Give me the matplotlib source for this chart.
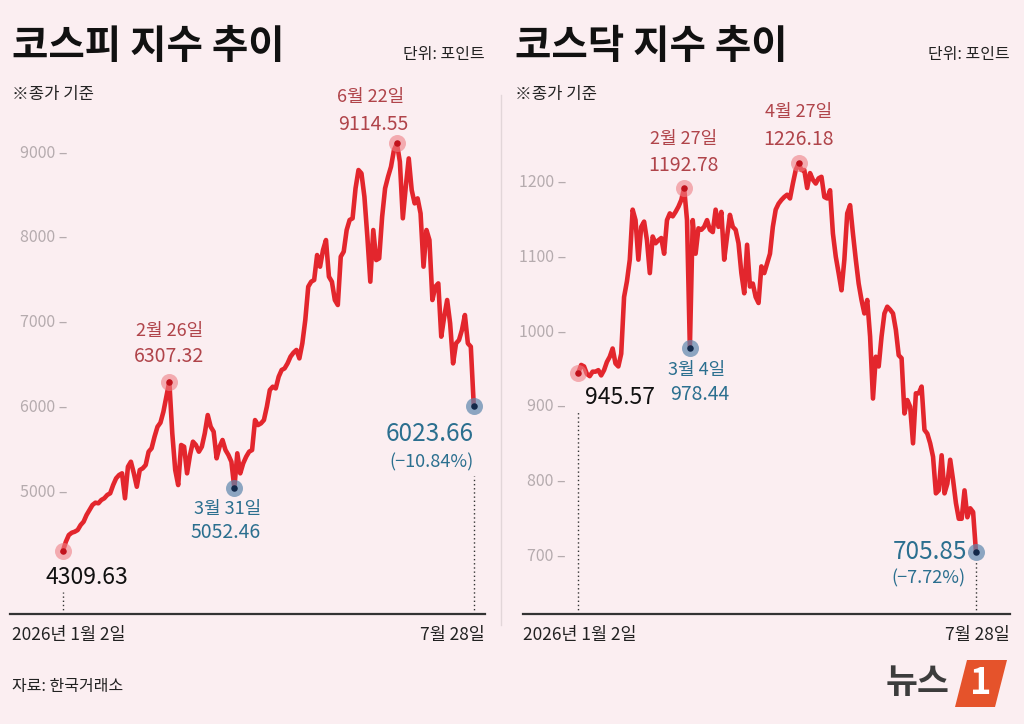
import numpy as np
import pandas as pd
import matplotlib.pyplot as plt
from matplotlib.patches import Polygon

plt.rcParams['font.family'] = ['Noto Sans CJK KR', 'DejaVu Sans']

# 거래일 (2026-01-02 ~ 2026-07-28, 휴장일 제외)
holidays = ['2026-02-16', '2026-02-17', '2026-02-18', '2026-03-02',
            '2026-05-01', '2026-05-05', '2026-05-25', '2026-06-03']
days = pd.bdate_range('2026-01-02', '2026-07-28')
days = days[~days.isin(pd.to_datetime(holidays))]

kospi = [4309.63, 4419, 4498, 4525, 4537, 4557, 4616, 4655, 4734, 4793,
         4852, 4879, 4872, 4911, 4931, 4970, 4990, 5087, 5166, 5205,
         5225, 4931, 5303, 5362, 5225, 5067, 5264, 5284, 5323, 5480,
         5520, 5657, 5774, 5822, 5951, 6128, 6307.32, 5697, 5264, 5087,
         5559, 5539, 5225, 5441, 5598, 5559, 5480, 5539, 5697, 5912,
         5774, 5716, 5402, 5539, 5618, 5500, 5441, 5362, 5052.46, 5461,
         5225, 5343, 5421, 5480, 5500, 5853, 5794, 5814, 5853, 6011,
         6207, 6246, 6226, 6364, 6443, 6462, 6521, 6600, 6647, 6679,
         6580, 6757, 7032, 7425, 7484, 7504, 7798, 7661, 7857, 7975,
         7543, 7484, 7268, 7209, 7779, 7838, 8093, 8211, 8231, 8584,
         8800, 8761, 8486, 8015, 7484, 8093, 7739, 7759, 8250, 8584,
         8721, 8839, 9036, 9114.55, 8898, 8231, 8604, 8937, 8564, 8407,
         8466, 8289, 7661, 8093, 7975, 7268, 7425, 7464, 6836, 7071,
         7268, 6993, 6521, 6757, 6796, 6914, 7091, 6757, 6718, 6023.66]

kosdaq = [945.57, 956, 954, 944, 941, 947, 947, 949, 942, 949,
          960, 967, 978, 958, 954, 971, 1047, 1068, 1097, 1164,
          1150, 1097, 1141, 1148, 1123, 1079, 1128, 1119, 1123, 1126,
          1105, 1150, 1159, 1155, 1161, 1168, 1177, 1192.78, 1150, 978.44,
          1150, 1105, 1139, 1137, 1141, 1150, 1137, 1134, 1164, 1141,
          1161, 1097, 1128, 1157, 1141, 1137, 1119, 1079, 1052, 1117,
          1061, 1065, 1047, 1039, 1088, 1079, 1092, 1105, 1141, 1164,
          1172, 1177, 1181, 1184, 1179, 1199, 1217, 1226.18, 1217, 1217,
          1193, 1213, 1204, 1199, 1206, 1208, 1181, 1179, 1190, 1132,
          1101, 1079, 1056, 1097, 1159, 1170, 1132, 1097, 1065, 1043,
          1025, 1043, 994, 911, 967, 954, 994, 1025, 1034, 1030,
          1025, 1003, 969, 965, 891, 909, 900, 851, 918, 918,
          927, 869, 864, 851, 833, 784, 788, 835, 784, 797,
          829, 802, 771, 750, 750, 788, 752, 764, 759, 705.85]

kospi_ticks = [5000, 6000, 7000, 8000, 9000]
kosdaq_ticks = [700, 800, 900, 1000, 1100, 1200]

bg = '#fbeef1'
red = '#e3262d'
red_txt = '#b0444a'
blue_txt = '#2b6f8f'
tick_gray = '#b5abae'

fig = plt.figure(figsize=(10.24, 7.24), dpi=100, facecolor=bg)


def fx(x):
    return x / 1024


def fy(y):
    return 1 - y / 724


def idx(d):
    return list(days).index(pd.Timestamp(d))


def panel(rect, values, xlim, ylim, ticks, tick_x, marks, vlines):
    ax = fig.add_axes(rect)
    ax.set_facecolor(bg)
    x = np.arange(len(values))
    ax.plot(x, values, color=red, lw=3.3, solid_joinstyle='round', zorder=3)
    ax.set_xlim(*xlim)
    ax.set_ylim(*ylim)
    for s in ['top', 'right', 'left']:
        ax.spines[s].set_visible(False)
    ax.spines['bottom'].set_color('#333333')
    ax.spines['bottom'].set_linewidth(1.6)
    ax.set_xticks([])
    ax.set_yticks([])
    for t in ticks:
        ax.text(tick_x, t, f'{t} –', transform=ax.get_yaxis_transform(),
                ha='right', va='center', fontsize=11.5, color=tick_gray)
    for i, ymax in vlines:
        ax.axvline(i, ymin=0, ymax=ymax, color='#333333', lw=1,
                   ls=(0, (1, 2)), zorder=1)
    for i, kind, texts in marks:
        v = values[i]
        if kind == 'red':
            ax.scatter([i], [v], s=150, color='#ee7f85', alpha=0.6,
                       zorder=4, linewidths=0)
            ax.scatter([i], [v], s=22, color='#c1121c', zorder=5,
                       linewidths=0)
        elif kind == 'blue':
            ax.scatter([i], [v], s=150, color='#5d87ad', alpha=0.7,
                       zorder=4, linewidths=0)
            ax.scatter([i], [v], s=22, color='#13294a', zorder=5,
                       linewidths=0)
        for txt, dx, dy, size, col in texts:
            ax.annotate(txt, xy=(i, v), xytext=(dx, dy),
                        textcoords='offset pixels', ha='center',
                        va='center', fontsize=size, color=col,
                        annotation_clip=False, zorder=6)
    return ax


# 코스피
i0, i_end = 0, len(kospi) - 1
panel([fx(10), fy(614), fx(475), 484 / 724], kospi,
      (-17.9, 142.8), (3567, 9272), kospi_ticks, 0.12,
      [(i0, 'red', [('4309.63', 24, -27, 16.5, '#111111')]),
       (idx('2026-02-26'), 'red', [('2월 26일', 0, 51, 13, red_txt),
                                   ('6307.32', 0, 25, 14, red_txt)]),
       (idx('2026-03-31'), 'blue', [('3월 31일', -7, -21, 13, blue_txt),
                                    ('5052.46', -9, -45, 14, blue_txt)]),
       (idx('2026-06-22'), 'red', [('6월 22일', -26, 46, 13, red_txt),
                                   ('9114.55', -24, 19, 14, red_txt)]),
       (i_end, 'blue', [('6023.66', -44, -28, 17.5, blue_txt),
                        ('(−10.84%)', -42, -57, 13, blue_txt)])],
      [(i0, 0.045), (i_end, 0.285)])

# 코스닥
panel([fx(523), fy(614), fx(487), 484 / 724], kosdaq,
      (-19.33, 150.9), (622.4, 1270.7), kosdaq_ticks, 0.0883,
      [(i0, 'red', [('945.57', 42, -25, 16.5, '#111111')]),
       (idx('2026-02-27'), 'red', [('2월 27일', -1, 49, 13, red_txt),
                                   ('1192.78', -1, 23, 14, red_txt)]),
       (idx('2026-03-04'), 'blue', [('3월 4일', 7, -22, 13, blue_txt),
                                    ('978.44', 10, -46, 14, blue_txt)]),
       (idx('2026-04-27'), 'red', [('4월 27일', 0, 51, 13, red_txt),
                                   ('1226.18', 0, 24, 14, red_txt)]),
       (i_end, 'blue', [('705.85', -46, 0, 17.5, blue_txt),
                        ('(−7.72%)', -48, -27, 13, blue_txt)])],
      [(i0, 0.42), (i_end, 0.107)])

# 제목과 텍스트
for x0, x1, title in [(12, 485, '코스피 지수 추이'), (515, 1010, '코스닥 지수 추이')]:
    fig.text(fx(x0), fy(46), title, fontsize=28.5, fontweight='bold',
             color='#111111', ha='left', va='center')
    fig.text(fx(x1), fy(55), '단위: 포인트', fontsize=11.5, color='#222222',
             ha='right', va='center')
    fig.text(fx(x0), fy(94), '※종가 기준', fontsize=12, color='#222222',
             ha='left', va='center')

for x0, x1 in [(12, 485), (523, 1010)]:
    fig.text(fx(x0), fy(635), '2026년 1월 2일', fontsize=12.5,
             color='#222222', ha='left', va='center')
    fig.text(fx(x1), fy(635), '7월 28일', fontsize=12.5, color='#222222',
             ha='right', va='center')

fig.add_artist(plt.Line2D([fx(501), fx(501)], [fy(95), fy(625)],
                          color='#e2d6d9', lw=1))

fig.text(fx(12), fy(686), '자료: 한국거래소', fontsize=11.5, color='#222222',
         ha='left', va='center')

# 뉴스1 로고
fig.text(fx(950), fy(683), '뉴스', fontsize=25, fontweight='bold',
         color='#3c3c3c', ha='right', va='center')
fig.add_artist(Polygon([(fx(955), fy(707)), (fx(967), fy(660)),
                        (fx(1007), fy(660)), (fx(995), fy(707))],
                       closed=True, facecolor='#e5532b', edgecolor='none',
                       transform=fig.transFigure))
fig.text(fx(981), fy(684), '1', fontsize=26, fontweight='bold',
         fontstyle='italic', color='white', ha='center', va='center')

fig.savefig('out.png', dpi=100, facecolor=bg)
